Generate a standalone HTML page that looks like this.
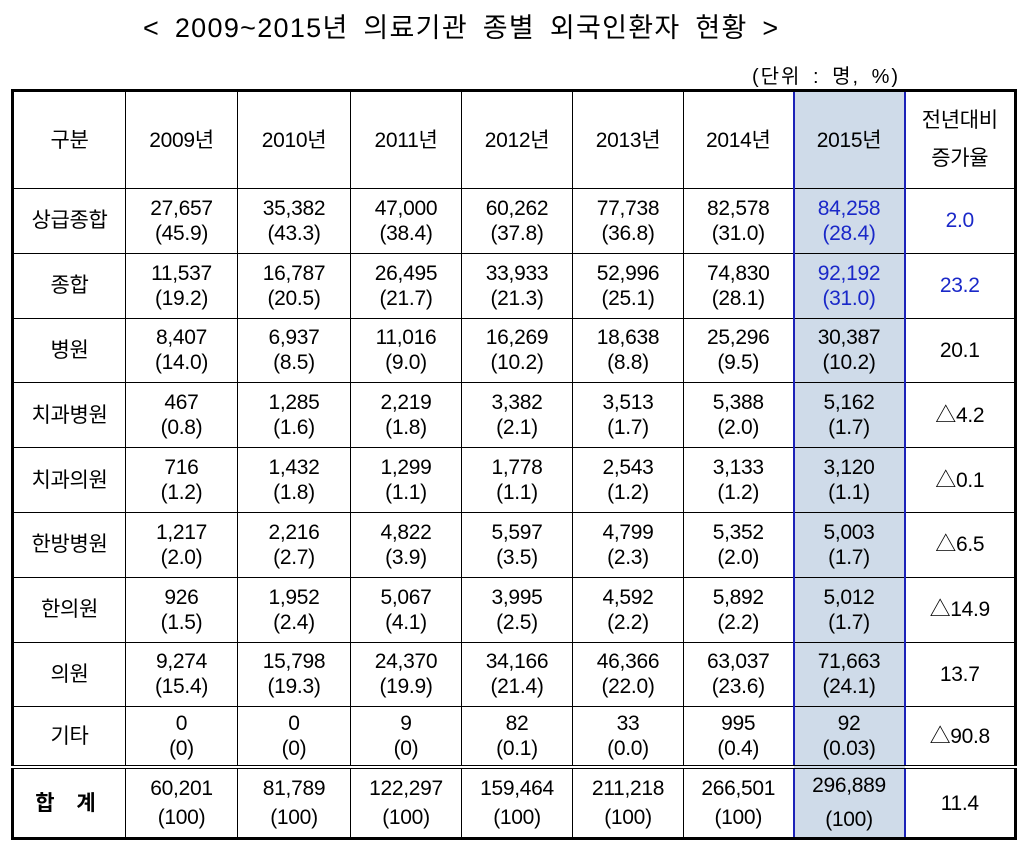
<!DOCTYPE html>
<html><head><meta charset="utf-8"><style>
body{margin:0;width:1024px;height:843px;background:#fff;position:relative;font-family:"Liberation Sans","Noto Sans CJK KR",sans-serif;color:#000;overflow:hidden}
.t{position:absolute;left:143px;top:6px;font-size:27px;letter-spacing:1.3px;word-spacing:6px;white-space:nowrap}
.u{position:absolute;left:752px;top:60px;font-size:20px;letter-spacing:2px;word-spacing:4px;white-space:nowrap}
table{position:absolute;left:11px;top:89px;border-collapse:collapse;table-layout:fixed;border:3px solid #000}
td{border:1px solid #000;text-align:center;font-size:21px;line-height:25px;padding:0;letter-spacing:-0.3px}
td.b{background:#cfdbe9;border-left:2px solid #1c22b8;border-right:2px solid #1c22b8}
tr.h td{height:96px}
tr.r td{height:63.8px}
tr.s td{height:58px;border-bottom:4px double #000}
tr.z td{height:60px;font-size:21px;line-height:29px}
.blue{color:#1a28c8}
tr.z td.k{font-weight:bold;letter-spacing:8px}
</style></head><body>
<div class="t">&lt; 2009~2015년 의료기관 종별 외국인환자 현황 &gt;</div>
<div class="u">(단위 : 명, %)</div>
<table>
<colgroup><col style="width:113px"><col style="width:112px"><col style="width:113px"><col style="width:111px"><col style="width:111px"><col style="width:111px"><col style="width:110px"><col style="width:111px"><col style="width:111px"></colgroup>
<tr class="h"><td>구분</td><td>2009년</td><td>2010년</td><td>2011년</td><td>2012년</td><td>2013년</td><td>2014년</td><td class="b" style="border-top:2px solid #1c22b8">2015년</td><td style="line-height:38px">전년대비<br>증가율</td></tr>
<tr class="r"><td>상급종합</td><td>27,657<br>(45.9)</td><td>35,382<br>(43.3)</td><td>47,000<br>(38.4)</td><td>60,262<br>(37.8)</td><td>77,738<br>(36.8)</td><td>82,578<br>(31.0)</td><td class="b blue">84,258<br>(28.4)</td><td class="blue">2.0</td></tr>
<tr class="r"><td>종합</td><td>11,537<br>(19.2)</td><td>16,787<br>(20.5)</td><td>26,495<br>(21.7)</td><td>33,933<br>(21.3)</td><td>52,996<br>(25.1)</td><td>74,830<br>(28.1)</td><td class="b blue">92,192<br>(31.0)</td><td class="blue">23.2</td></tr>
<tr class="r"><td>병원</td><td>8,407<br>(14.0)</td><td>6,937<br>(8.5)</td><td>11,016<br>(9.0)</td><td>16,269<br>(10.2)</td><td>18,638<br>(8.8)</td><td>25,296<br>(9.5)</td><td class="b">30,387<br>(10.2)</td><td>20.1</td></tr>
<tr class="r"><td>치과병원</td><td>467<br>(0.8)</td><td>1,285<br>(1.6)</td><td>2,219<br>(1.8)</td><td>3,382<br>(2.1)</td><td>3,513<br>(1.7)</td><td>5,388<br>(2.0)</td><td class="b">5,162<br>(1.7)</td><td>△4.2</td></tr>
<tr class="r"><td>치과의원</td><td>716<br>(1.2)</td><td>1,432<br>(1.8)</td><td>1,299<br>(1.1)</td><td>1,778<br>(1.1)</td><td>2,543<br>(1.2)</td><td>3,133<br>(1.2)</td><td class="b">3,120<br>(1.1)</td><td>△0.1</td></tr>
<tr class="r"><td>한방병원</td><td>1,217<br>(2.0)</td><td>2,216<br>(2.7)</td><td>4,822<br>(3.9)</td><td>5,597<br>(3.5)</td><td>4,799<br>(2.3)</td><td>5,352<br>(2.0)</td><td class="b">5,003<br>(1.7)</td><td>△6.5</td></tr>
<tr class="r"><td>한의원</td><td>926<br>(1.5)</td><td>1,952<br>(2.4)</td><td>5,067<br>(4.1)</td><td>3,995<br>(2.5)</td><td>4,592<br>(2.2)</td><td>5,892<br>(2.2)</td><td class="b">5,012<br>(1.7)</td><td>△14.9</td></tr>
<tr class="r"><td>의원</td><td>9,274<br>(15.4)</td><td>15,798<br>(19.3)</td><td>24,370<br>(19.9)</td><td>34,166<br>(21.4)</td><td>46,366<br>(22.0)</td><td>63,037<br>(23.6)</td><td class="b">71,663<br>(24.1)</td><td>13.7</td></tr>
<tr class="s"><td>기타</td><td>0<br>(0)</td><td>0<br>(0)</td><td>9<br>(0)</td><td>82<br>(0.1)</td><td>33<br>(0.0)</td><td>995<br>(0.4)</td><td class="b">92<br>(0.03)</td><td>△90.8</td></tr>
<tr class="z"><td class="k">합 계</td><td>60,201<br>(100)</td><td>81,789<br>(100)</td><td>122,297<br>(100)</td><td>159,464<br>(100)</td><td>211,218<br>(100)</td><td>266,501<br>(100)</td><td class="b" style="border-bottom:2px solid #1c22b8;line-height:34px">296,889<br>(100)</td><td>11.4</td></tr>
</table>
</body></html>
